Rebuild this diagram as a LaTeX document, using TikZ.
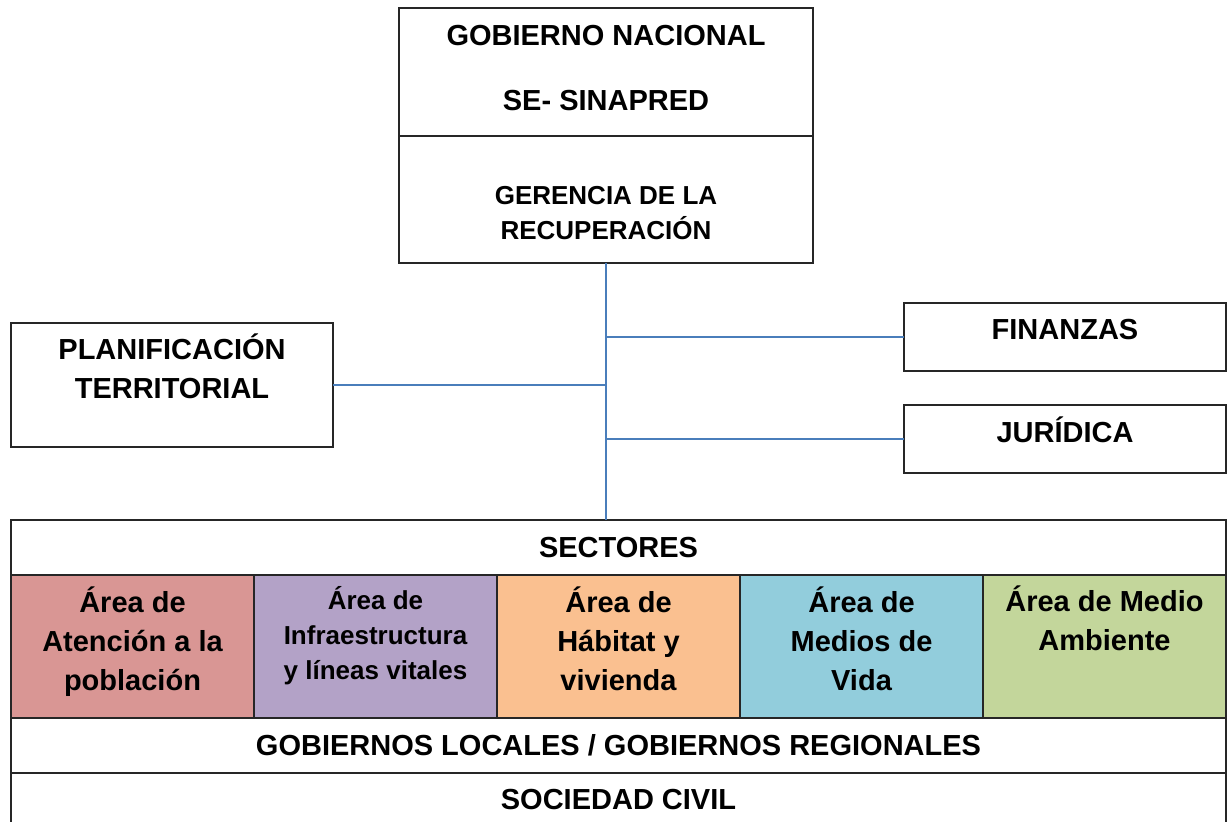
\documentclass[tikz,border=0pt]{standalone}
\usepackage{fontspec}
\setmainfont{Liberation Sans}
\usetikzlibrary{positioning}

\definecolor{linkblue}{HTML}{4A7EBB}
\definecolor{atencion}{HTML}{D99694}
\definecolor{infra}{HTML}{B3A2C7}
\definecolor{habitat}{HTML}{FAC090}
\definecolor{medios}{HTML}{92CDDC}
\definecolor{ambiente}{HTML}{C3D69B}

\begin{document}
\begin{tikzpicture}[x=0.5pt,y=-0.5pt,node distance=0pt,
  box/.style={draw=black!85, line width=0.6pt, inner sep=0pt, outer sep=0pt, align=center,
    font=\bfseries\fontsize{14.5}{19.5}\selectfont},
  txt/.style={inner sep=0pt, align=center, font=\bfseries\fontsize{14.5}{19.5}\selectfont},
  small/.style={txt, font=\bfseries\fontsize{13}{17.5}\selectfont},
  area/.style={box, fill=#1, minimum width=121.5pt, minimum height=71.5pt},
  side/.style={box, minimum width=161pt},
  row/.style={box, minimum width=607.5pt, minimum height=27.5pt},
  link/.style={draw=linkblue, line width=1pt}]
\useasboundingbox (0,0) rectangle (1227,822);

% top block
\node[box, minimum width=207pt, minimum height=64pt] (gobierno) at (606,72) {};
\node[box, minimum width=207pt, minimum height=63.5pt] (gerencia) [below=of gobierno] {};
\node[txt] (gobierno_t) at ([yshift=1.75pt]gobierno.center) {GOBIERNO NACIONAL\\[13pt]SE- SINAPRED};
\node[small] (gerencia_t) at ([yshift=-7pt]gerencia.center) {GERENCIA DE LA\\RECUPERACIÓN};

% side boxes
\node[side, minimum height=62pt] (planif) at (172,385) {};
\node[side, minimum height=34pt] (finanzas) at (1065,337) {};
\node[side, minimum height=34pt] (juridica) at (1065,439) {};
\node[txt] (planif_t) at ([yshift=9.25pt]planif.center) {PLANIFICACIÓN\\TERRITORIAL};
\node[txt] (finanzas_t) at ([yshift=3.5pt]finanzas.center) {FINANZAS};
\node[txt] (juridica_t) at ([yshift=4.5pt]juridica.center) {JURÍDICA};

% bottom rows
\node[row] (sectores) at (618.5,547.5) {SECTORES};
\node[area=atencion, anchor=north west] (a_atencion) at (sectores.south west) {};
\node[area=infra] (a_infra) [right=of a_atencion] {};
\node[area=habitat] (a_habitat) [right=of a_infra] {};
\node[area=medios] (a_medios) [right=of a_habitat] {};
\node[area=ambiente] (a_ambiente) [right=of a_medios] {};
\node[row, anchor=north west] (locales) at (a_atencion.south west) {GOBIERNOS LOCALES / GOBIERNOS REGIONALES};
\node[row, minimum height=27pt] (sociedad) [below=of locales] {SOCIEDAD CIVIL};

\node[txt] (atencion_t) at ([yshift=2.25pt]a_atencion.center) {Área de\\Atención a la\\población};
\node[small] (infra_t) at ([yshift=5.25pt]a_infra.center) {Área de\\Infraestructura\\y líneas vitales};
\node[txt] (habitat_t) at ([yshift=3.75pt]a_habitat.center) {Área de\\Hábitat y\\vivienda};
\node[txt] (medios_t) at ([yshift=3.75pt]a_medios.center) {Área de\\Medios de\\Vida};
\node[txt] (ambiente_t) at ([yshift=14pt]a_ambiente.center) {Área de Medio\\Ambiente};

% connectors
\path[link]
  (gerencia.south) edge (gerencia.south |- sectores.north)
  (planif.east) edge (planif.east -| gerencia.south)
  (finanzas.west -| gerencia.south) edge (finanzas.west)
  (juridica.west -| gerencia.south) edge (juridica.west);
\end{tikzpicture}
\end{document}
